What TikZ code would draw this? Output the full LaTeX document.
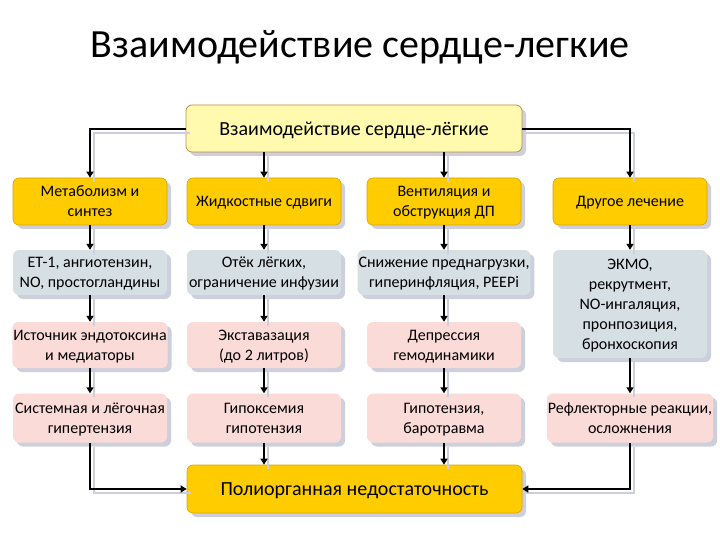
\documentclass[tikz,border=0pt]{standalone}
\usepackage{fontspec}
\setmainfont{Carlito}
\usetikzlibrary{arrows.meta,shadows}
\definecolor{gold}{HTML}{FFCC00}
\definecolor{goldline}{HTML}{D9A300}
\definecolor{pale}{HTML}{FFFAAE}
\definecolor{paleline}{HTML}{C08A3E}
\definecolor{bluegrey}{HTML}{D6DFE3}
\definecolor{pinkb}{HTML}{FADBD7}
\definecolor{shadowc}{HTML}{CDD0DC}
\tikzset{
  box/.style={rounded corners=6pt, minimum width=154pt, minimum height=47pt, align=center,
    font=\fontsize{16}{20}\selectfont, inner sep=1pt, text depth=0pt,
    general shadow={fill=shadowc, shadow xshift=4pt, shadow yshift=-4pt}},
  goldbox/.style={box, fill=gold, draw=goldline, line width=0.6pt},
  greybox/.style={box, fill=bluegrey},
  pinkbox/.style={box, fill=pinkb},
  conn/.style={line width=2.5pt, -{Triangle[length=6pt,width=7pt]},
    preaction={draw=shadowc, line width=2.5pt, -, transform canvas={shift={(4pt,-4pt)}}}},
}
\begin{document}
\begin{tikzpicture}[x=1pt,y=-1pt]
\useasboundingbox (0,0) rectangle (720,540);
\node[font=\fontsize{40}{44}\selectfont] (title) at (360,47) {Взаимодействие сердце-легкие};
\node[box, fill=pale, draw=paleline, line width=0.7pt, minimum width=336pt, minimum height=47pt,
  font=\fontsize{20}{22}\selectfont] (top) at (354,128.5) {Взаимодействие сердце-лёгкие};
% row 1
\node[goldbox] (a1) at (90,201.5) {Метаболизм и\\синтез};
\node[goldbox] (b1) at (264,201.5) {Жидкостные сдвиги};
\node[goldbox] (c1) at (444,201.5) {Вентиляция и\\обструкция ДП};
\node[goldbox] (d1) at (630,201.5) {Другое лечение};
% row 2
\node[greybox, minimum height=45pt] (a2) at (90,272.5) {ЕТ-1, ангиотензин,\\NO, простогландины};
\node[greybox, minimum height=45pt] (b2) at (264,272.5) {Отёк лёгких,\\ограничение инфузии};
\node[greybox, minimum height=45pt] (c2) at (444,272.5) {Снижение преднагрузки,\\гиперинфляция, PEEPi};
\node[greybox, minimum height=108pt] (d2) at (630,304) {ЭКМО,\\рекрутмент,\\NO-ингаляция,\\пронпозиция,\\бронхоскопия};
% row 3
\node[pinkbox, minimum height=46pt] (a3) at (90,345) {Источник эндотоксина\\и медиаторы};
\node[pinkbox, minimum height=46pt] (b3) at (264,345) {Экставазация\\(до 2 литров)};
\node[pinkbox, minimum height=46pt] (c3) at (444,345) {Депрессия\\гемодинамики};
% row 4
\node[pinkbox, minimum height=49pt] (a4) at (90,418) {Системная и лёгочная\\гипертензия};
\node[pinkbox, minimum height=49pt] (b4) at (264,418) {Гипоксемия\\гипотензия};
\node[pinkbox, minimum height=49pt] (c4) at (444,418) {Гипотензия,\\баротравма};
\node[pinkbox, minimum height=49pt] (d4) at (630,418) {Рефлекторные реакции,\\осложнения};
% bottom
\node[goldbox, minimum width=335pt, minimum height=48pt, font=\fontsize{20}{22}\selectfont] (bot) at (354.5,489) {Полиорганная недостаточность};
% connectors
\draw[conn] (top.west |- 0,129) -| (a1.north);
\draw[conn] (top.south -| b1.north) -- (b1.north);
\draw[conn] (top.south -| c1.north) -- (c1.north);
\draw[conn] (top.east |- 0,129) -| (d1.north);
\draw[conn] (a1) -- (a2);
\draw[conn] (b1) -- (b2);
\draw[conn] (c1) -- (c2);
\draw[conn] (d1) -- (d2);
\draw[conn] (a2) -- (a3);
\draw[conn] (b2) -- (b3);
\draw[conn] (c2) -- (c3);
\draw[conn] (a3) -- (a4);
\draw[conn] (b3) -- (b4);
\draw[conn] (c3) -- (c4);
\draw[conn] (d2) -- (d4);
\draw[conn] (a4.south) |- (bot.west);
\draw[conn] (b4.south) -- (bot.north -| b4.south);
\draw[conn] (c4.south) -- (bot.north -| c4.south);
\draw[conn] (d4.south) |- (bot.east);
\end{tikzpicture}
\end{document}
